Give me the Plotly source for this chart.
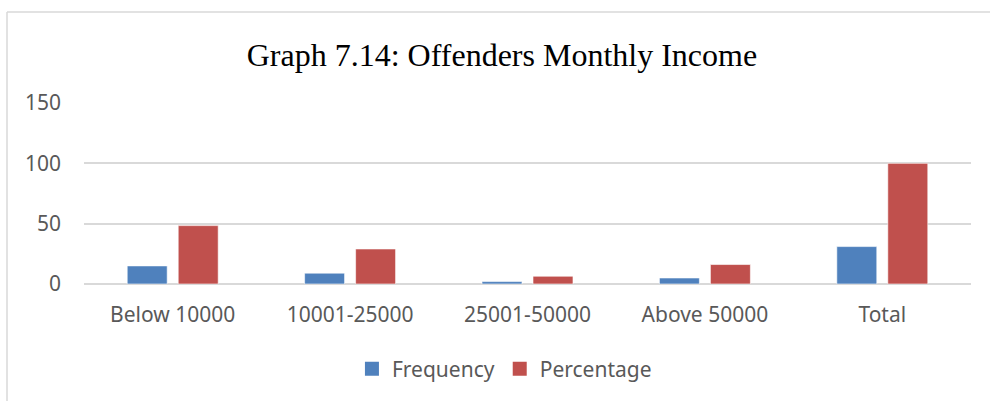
import plotly.graph_objects as go

categories = ["Below 10000", "10001-25000", "25001-50000", "Above 50000", "Total"]
frequency = [15, 9, 2, 5, 31]
percentage = [48.39, 29.03, 6.45, 16.13, 100]
series_names = ["Frequency", "Percentage"]
series_colors = ["#4f81bd", "#c0504d"]

W, H = 990, 401
L, R, T, B = 84, 19, 103, 117
pw = W - L - R
ph = H - T - B

def px_x(x):
    return (x - L) / pw

def px_y(y):
    return (H - B - y) / ph

fig = go.Figure()
for name, vals, col in zip(series_names, [frequency, percentage], series_colors):
    fig.add_trace(go.Bar(name=name, x=categories, y=vals, showlegend=False,
                         marker=dict(color=col, line=dict(color="#ffffff", width=0.6))))
for name, col in zip(series_names, series_colors):
    fig.add_trace(go.Scatter(name=name, x=[None], y=[None], mode="markers",
                             marker=dict(symbol="square", size=14, color=col),
                             showlegend=True))

fig.update_layout(
    width=W, height=H,
    margin=dict(l=L, r=R, t=T, b=B),
    paper_bgcolor="white", plot_bgcolor="white",
    barmode="group", bargap=0.425, bargroupgap=0.216,
    title=dict(text="Graph 7.14: Offenders Monthly Income",
               font=dict(family="Liberation Serif", size=32, color="#000000"),
               x=0.507, xanchor="center", y=0.863, yanchor="middle"),
    font=dict(family="Noto Sans", color="#595959", size=21),
    legend=dict(orientation="h", x=0.474, xanchor="center", y=-0.47, yanchor="middle",
                font=dict(size=21, color="#595959"), traceorder="normal",
                tracegroupgap=0),
    xaxis=dict(showgrid=False, showline=False, ticks="", ticklabelstandoff=16,
               tickfont=dict(size=21, color="#595959")),
    yaxis=dict(range=[0, 150], tickvals=[0, 50, 100, 150], showgrid=True,
               gridcolor="#d9d9d9", gridwidth=1.5, zeroline=True, zerolinecolor="#d9d9d9",
               zerolinewidth=1.5, showline=False, ticks="", ticklabelstandoff=22,
               tickfont=dict(size=21, color="#595959")),
    showlegend=True,
)

fig.add_shape(type="line", xref="paper", yref="paper",
              x0=px_x(7), x1=px_x(7), y0=px_y(12), y1=px_y(420),
              line=dict(color="#d9d9d9", width=1.5))
fig.add_shape(type="line", xref="paper", yref="paper",
              x0=px_x(7), x1=px_x(1010), y0=px_y(12), y1=px_y(12),
              line=dict(color="#d9d9d9", width=1.5))

fig.write_html("out.html", config={"displayModeBar": False},
               post_script="document.body.style.margin='0';")
